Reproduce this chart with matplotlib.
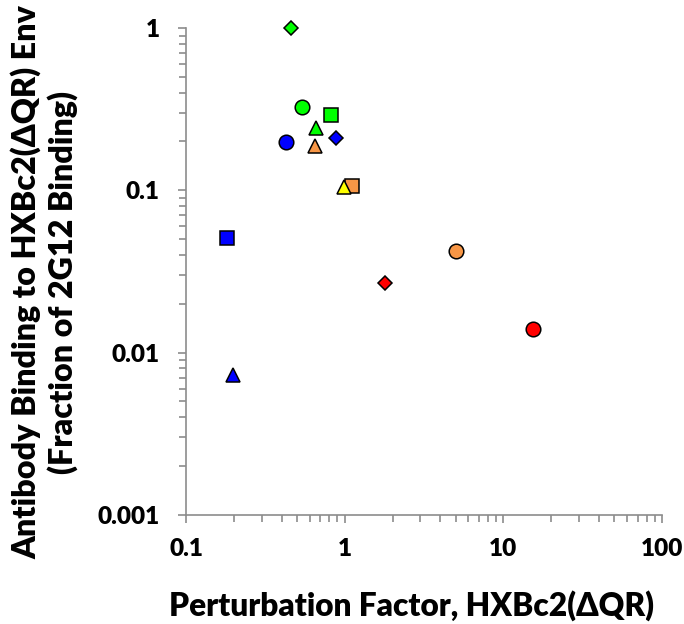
import matplotlib
matplotlib.use("Agg")
import matplotlib.pyplot as plt
from matplotlib.ticker import LogLocator, FixedLocator, NullFormatter

# data (x = perturbation factor, y = fraction of 2G12 binding)
x_vals = [0.457, 0.536, 0.816, 0.656, 0.425, 0.647, 0.877, 1.107, 0.985, 0.180, 0.197, 5.0, 1.79, 15.3]
y_vals = [1.0, 0.326, 0.291, 0.242, 0.198, 0.187, 0.210, 0.107, 0.105, 0.0508, 0.0073, 0.0423, 0.0268, 0.0140]
colors = ["#00ff00", "#00ff00", "#00ff00", "#00ff00", "#0000ff", "#f79646", "#0000ff",
          "#f79646", "#ffff00", "#0000ff", "#0000ff", "#f79646", "#ff0000", "#ff0000"]
shapes = ["D", "o", "s", "^", "o", "^", "D", "s", "^", "s", "^", "o", "D", "o"]
sizes = {"o": 10.5, "s": 10.3, "^": 10.5, "D": 7.3}

x_ticks = [0.1, 1, 10, 100]
x_ticklabels = ["0.1", "1", "10", "100"]
y_ticks = [0.001, 0.01, 0.1, 1]
y_ticklabels = ["0.001", "0.01", "0.1", "1"]

plt.rcParams['font.family'] = ['Lato', 'DejaVu Sans']

fig = plt.figure(figsize=(6.84, 6.24), dpi=100)
ax = fig.add_axes([0.272, 0.175, 0.696, 0.780])

# yellow triangle is drawn over the orange square, as in the original
for i in range(len(x_vals)):
    ax.plot(x_vals[i], y_vals[i], marker=shapes[i], markersize=sizes[shapes[i]],
            markerfacecolor=colors[i], markeredgecolor="black", markeredgewidth=1.1,
            linestyle="none", zorder=3, clip_on=False)

ax.set_xscale("log")
ax.set_yscale("log")
ax.set_xlim(0.1, 100)
ax.set_ylim(0.001, 1)

ax.xaxis.set_major_locator(FixedLocator(x_ticks))
ax.set_xticklabels(x_ticklabels)
ax.yaxis.set_major_locator(FixedLocator(y_ticks))
ax.set_yticklabels(y_ticklabels)
ax.xaxis.set_minor_locator(LogLocator(base=10, subs=range(2, 10)))
ax.yaxis.set_minor_locator(LogLocator(base=10, subs=range(2, 10)))
ax.xaxis.set_minor_formatter(NullFormatter())
ax.yaxis.set_minor_formatter(NullFormatter())

for s in ["top", "right"]:
    ax.spines[s].set_visible(False)
for s in ["left", "bottom"]:
    ax.spines[s].set_color("#8c8c8c")
    ax.spines[s].set_linewidth(1.2)

ax.tick_params(which="both", direction="out", color="#8c8c8c", width=1.2)
ax.tick_params(which="major", length=6)
ax.tick_params(which="minor", length=5)
ax.tick_params(axis="x", which="major", pad=11, labelsize=17.5)
ax.tick_params(axis="y", which="major", pad=13, labelsize=17.5)
for lab in ax.get_xticklabels() + ax.get_yticklabels():
    lab.set_fontweight("heavy")

fig.text(0.602, 0.013, "Perturbation Factor, HXBc2(\u0394QR)", fontsize=22.8, fontweight="heavy",
         ha="center", va="baseline")
fig.text(0.064, 0.548, "Antibody Binding to HXBc2(\u0394QR) Env\n(Fraction of 2G12 Binding)",
         fontsize=23.2, fontweight="heavy", rotation=90, ha="center", va="center",
         multialignment="center", linespacing=1.22)

fig.savefig("out.png", dpi=100)
